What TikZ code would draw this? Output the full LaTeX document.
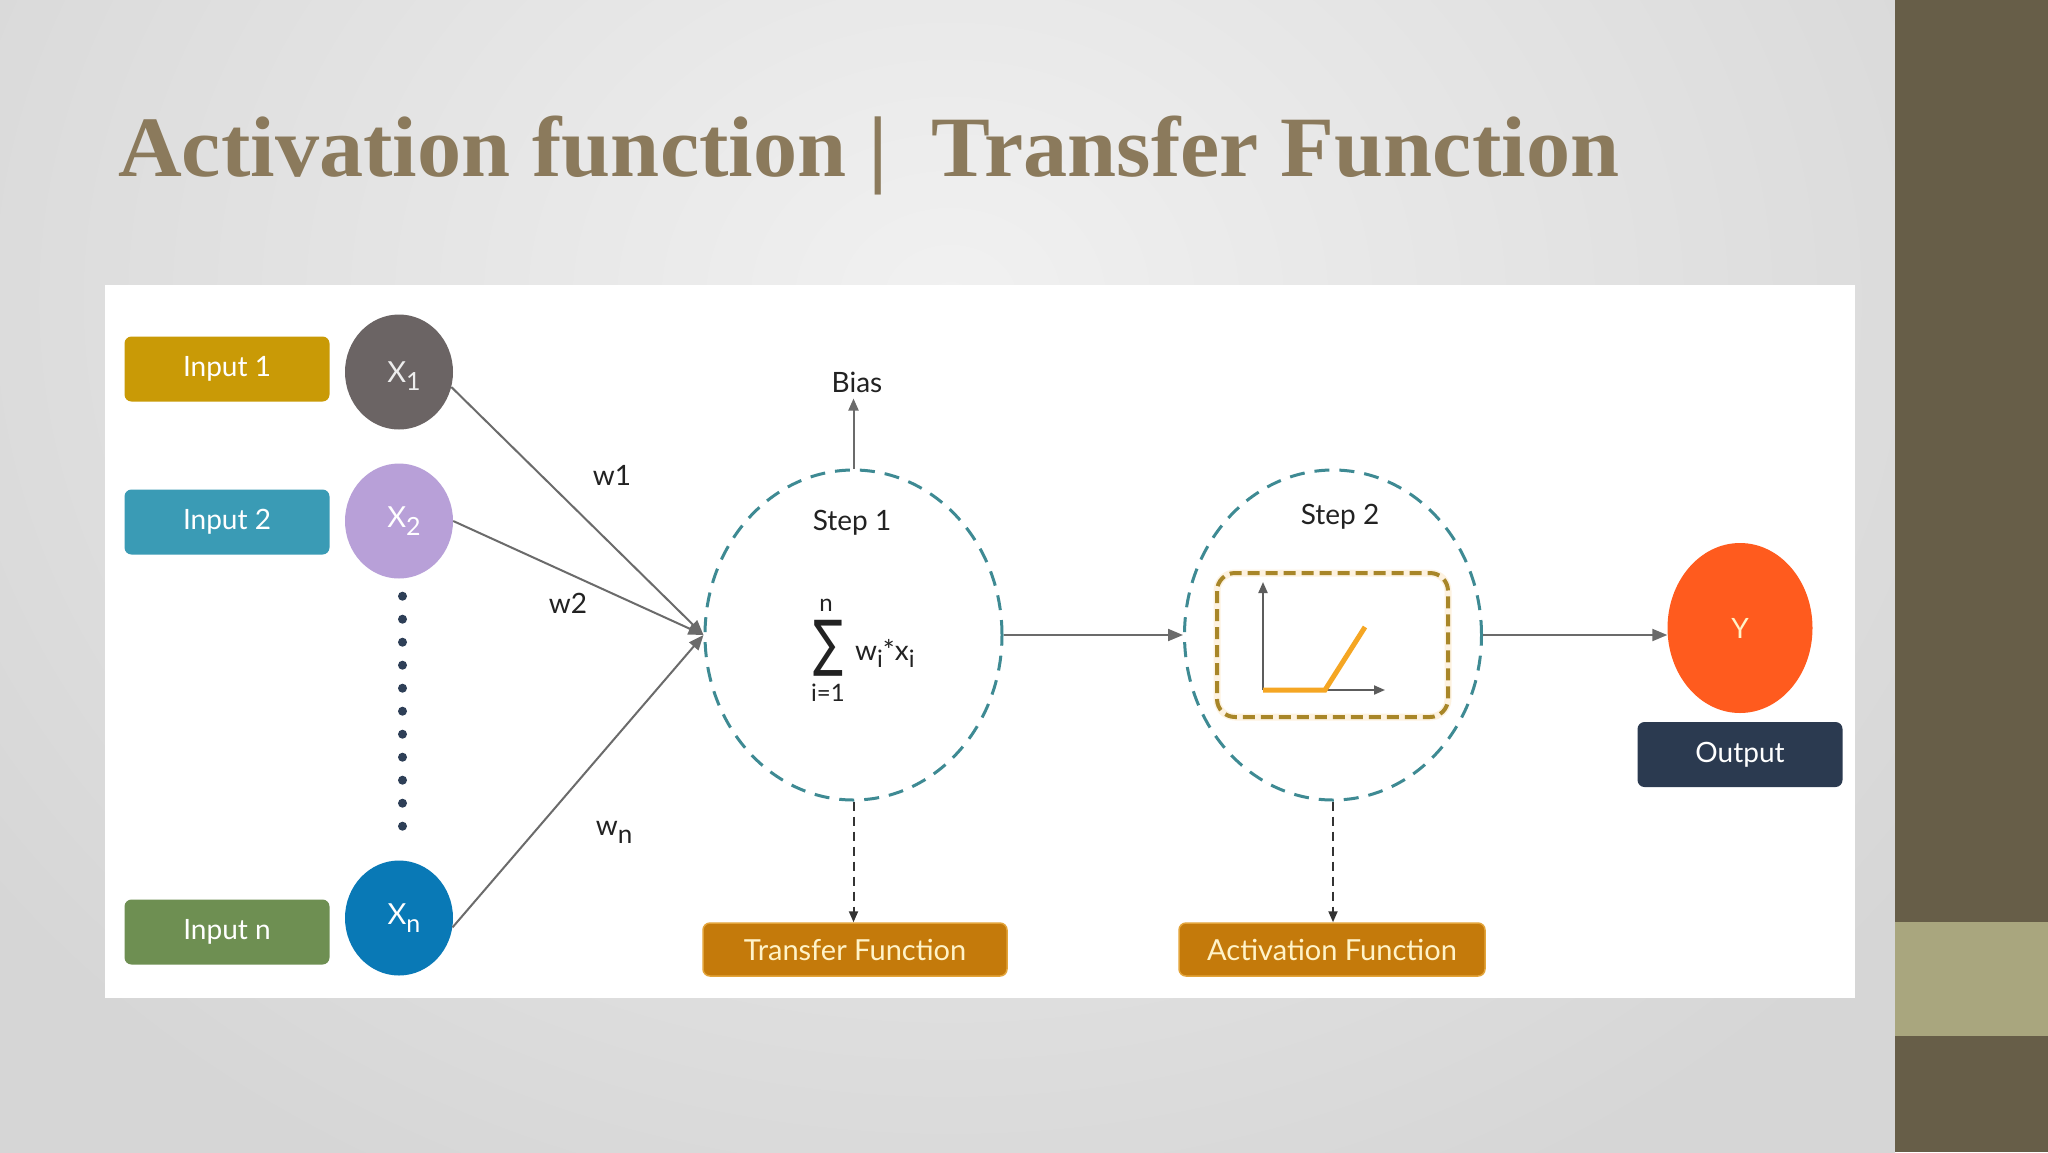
\documentclass[tikz,border=0pt]{standalone}
\usepackage{graphicx}
\usepackage{fontspec}
\setmainfont{Lato}
\newfontfamily\titlefont{Liberation Serif}
\newfontfamily\symfont{DejaVu Sans}
\usetikzlibrary{arrows.meta,shapes.geometric}
\definecolor{bgin}{HTML}{F1F1F1}
\definecolor{bgout}{HTML}{D6D6D6}
\definecolor{bardark}{HTML}{675E48}
\definecolor{barlight}{HTML}{A9A67E}
\definecolor{titlec}{HTML}{8B7A5C}
\definecolor{in1c}{HTML}{C99A06}
\definecolor{in2c}{HTML}{3A9BB5}
\definecolor{innc}{HTML}{6E8F52}
\definecolor{x1c}{HTML}{6B6464}
\definecolor{x2c}{HTML}{B8A0D8}
\definecolor{xnc}{HTML}{0979B6}
\definecolor{yc}{HTML}{FF5B1E}
\definecolor{outc}{HTML}{2B3A50}
\definecolor{funcc}{HTML}{C47A0B}
\definecolor{funcb}{HTML}{E3A43A}
\definecolor{functext}{HTML}{FFF3C8}
\definecolor{tealc}{HTML}{3E8A93}
\definecolor{goldc}{HTML}{A88628}
\definecolor{reluc}{HTML}{F5A623}
\definecolor{linec}{HTML}{6B6B6B}
\definecolor{darkc}{HTML}{333333}
\definecolor{labc}{HTML}{222222}
\definecolor{dotc}{HTML}{2E3F57}
\newcommand{\xsub}[1]{\raisebox{-8pt}{\fontsize{25}{25}\selectfont #1}}
\begin{document}
\begin{tikzpicture}[x=1pt,y=-1pt,
  inbox/.style={rectangle, rounded corners=7pt, minimum width=205pt, minimum height=65pt, inner sep=0pt, text=white, font=\fontsize{28}{28}\selectfont},
  xnode/.style={ellipse, minimum width=108pt, minimum height=115pt, inner sep=0pt, font=\fontsize{29}{29}\selectfont},
  stepc/.style={ellipse, draw=tealc, line width=3pt, dash pattern=on 15pt off 10pt, minimum width=297pt, minimum height=330pt, inner sep=0pt},
  lbl/.style={text=labc, font=\fontsize{28}{28}\selectfont, inner sep=0pt},
  fbox/.style={rectangle, rounded corners=7pt, fill=funcc, draw=funcb, line width=1.5pt, minimum width=304pt, minimum height=53pt, inner sep=0pt, text=functext, font=\fontsize{29}{29}\selectfont},
  conn/.style={draw=linec, line width=2pt, -{Triangle[length=15pt,width=12pt]}},
  dconn/.style={draw=darkc, line width=2pt, dash pattern=on 9pt off 6pt, -{Triangle[length=11pt,width=9pt]}},
  axarrow/.style={draw=darkc!80, line width=2pt, -{Triangle[length=11pt,width=9pt]}}
]
\useasboundingbox (0,0) rectangle (2048,1152);
% background
\fill[bgout] (0,0) rectangle (1895,1152);
\begin{scope}
  \clip (0,0) rectangle (1895,1152);
  \shade[inner color=bgin, outer color=bgout] (-250,-700) rectangle (2150,1300);
\end{scope}
\fill[bardark] (1895,0) rectangle (2048,1152);
\fill[barlight] (1895,922) rectangle (2048,1036);
% title
\node[anchor=base west, inner sep=0pt, text=titlec] (title) at (118,176)
  {\resizebox{1501pt}{\height}{\titlefont\bfseries\fontsize{86}{86}\selectfont Activation function |\ \ Transfer Function}};
% white panel
\fill[white] (104.5,284.7) rectangle (1854.5,997.8);

% inputs
\node[inbox, fill=in1c] (in1) at (227,369) {Input 1};
\node[inbox, fill=in2c] (in2) at (227,522) {Input 2};
\node[inbox, fill=innc] (inn) at (227,932) {Input n};
\node[xnode, fill=x1c, text=white!93!black, text depth=0pt] (x1) at (399,372) {\hspace{10pt}X\xsub{1}};
\node[xnode, fill=x2c, text=white] (x2) at (399,521) {\hspace{10pt}X\xsub{2}};
\node[xnode, fill=xnc, text=white] (xn) at (399,918) {\hspace{10pt}X\xsub{n}};
\draw[dotc, line width=9pt, line cap=round, dash pattern=on 0pt off 23pt, shorten <=17.5pt, shorten >=11.5pt] ([xshift=3.5pt]x2.south) -- ([xshift=3.5pt]xn.north);

% step circles
\node[stepc] (s1) at (853.5,635) {};
\node[stepc] (s2) at (1333,635) {};
\node[lbl] (st1) at (852,523) {Step 1};
\node[lbl] (st2) at (1340,517) {Step 2};

% sum formula
\node[inner sep=0pt, text=labc] (sig) at (828,648) {\resizebox*{30pt}{56pt}{\symfont ∑}};
\node[lbl, font=\fontsize{24}{24}\selectfont] (sn) at (826,605) {n};
\node[lbl, font=\fontsize{24}{24}\selectfont] (si) at (828,693) {i=1};
\node[lbl, anchor=base west, font=\fontsize{28}{28}\selectfont] (wx) at (855,660) {w\raisebox{-7pt}{\fontsize{24}{24}\selectfont i}*x\raisebox{-7pt}{\fontsize{24}{24}\selectfont i}};

% bias
\node[lbl, inner sep=6pt] (bias) at (857,382) {Bias};
\draw[conn, -{Triangle[length=12pt,width=10pt]}] (s1.north) -- (s1.north |- bias.south);

% weights
\draw[conn] (x1.-16) -- (s1.west);
\draw[conn] (x2.east) -- (s1.west);
\draw[conn] (xn.-10) -- (s1.west);
\node[lbl] (w1) at (612,475) {w1};
\node[lbl] (w2) at (568,603) {w2};
\node[lbl] (wn) at (614,832) {w\raisebox{-8pt}{\fontsize{26}{26}\selectfont n}};

% step 2 graph
\draw[reluc!40, line width=7pt, rounded corners=18pt, opacity=0.35] (1217,573) rectangle (1448,717);
\draw[goldc, line width=4pt, rounded corners=18pt, dash pattern=on 12pt off 6pt] (1217,573) rectangle (1448,717);
\coordinate (org) at (1263,690);
\coordinate (ytop) at (1263,582);
\coordinate (xend) at (1385,690);
\coordinate (kink) at (1325,690);
\coordinate (rend) at (1365,627);
\draw[axarrow] (org) -- (ytop);
\draw[axarrow] (org) -- (xend);
\draw[reluc, line width=5pt] (org) -- (kink) -- (rend);

% flow
\draw[conn] (s1.east) -- (s2.west);
\node[ellipse, fill=yc, minimum width=145pt, minimum height=170pt, inner sep=0pt, text=functext, font=\fontsize{28}{28}\selectfont] (y) at (1740,628) {Y};
\draw[conn] (s2.east) -- (s2.east -| y.west);
\node[inbox, fill=outc] (out) at (1740,754.5) {Output};

% function boxes
\node[fbox] (tf) at (855,949.5) {Transfer Function};
\node[fbox, minimum width=306pt] (af) at (1332,949.5) {Activation Function};
\draw[dconn] (s1.south) -- (s1.south |- tf.north);
\draw[dconn] (s2.south) -- (s2.south |- af.north);
\end{tikzpicture}
\end{document}
